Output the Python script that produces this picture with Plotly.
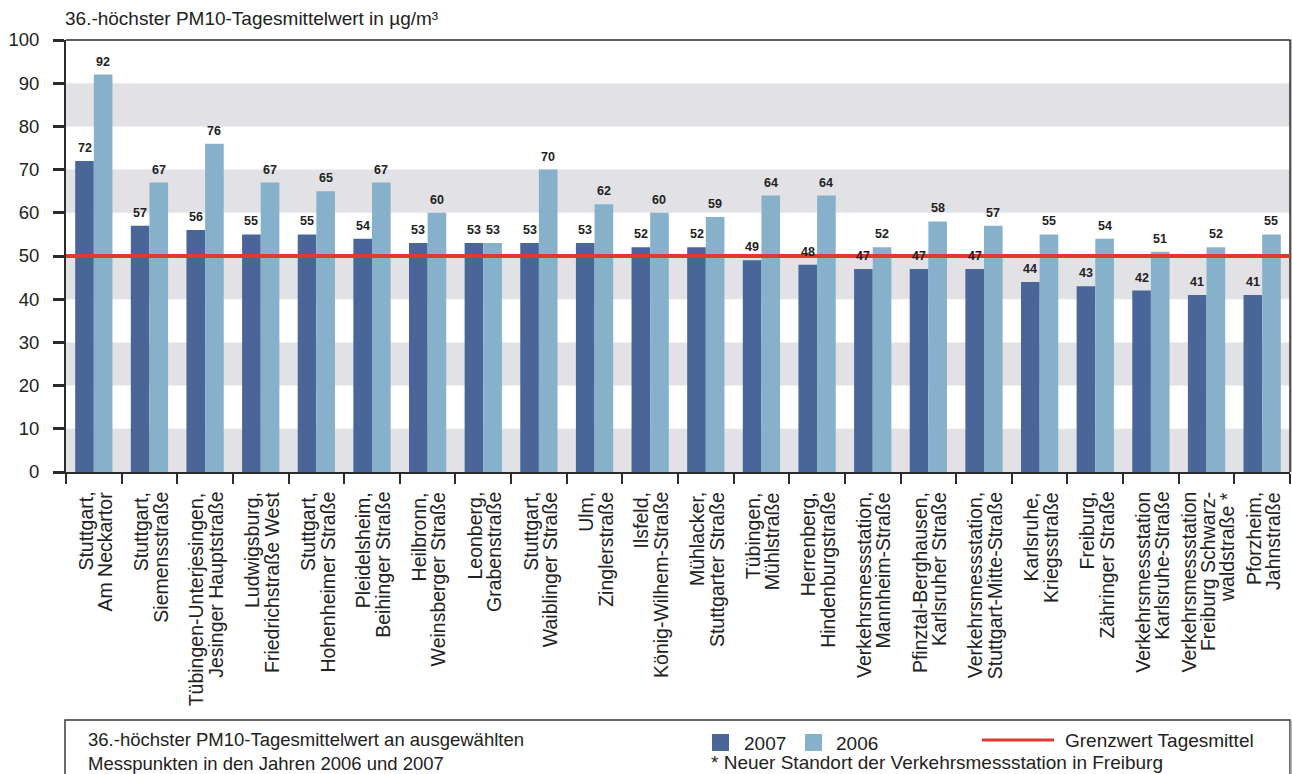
import plotly.graph_objects as go

# Messpunkte: one entry per station, each a list of label lines
station_lines = [
    ["Stuttgart,", "Am Neckartor"],
    ["Stuttgart,", "Siemensstraße"],
    ["Tübingen-Unterjesingen,", "Jesinger Hauptstraße"],
    ["Ludwigsburg,", "Friedrichstraße West"],
    ["Stuttgart,", "Hohenheimer Straße"],
    ["Pleidelsheim,", "Beihinger Straße"],
    ["Heilbronn,", "Weinsberger Straße"],
    ["Leonberg,", "Grabenstraße"],
    ["Stuttgart,", "Waiblinger Straße"],
    ["Ulm,", "Zinglerstraße"],
    ["Ilsfeld,", "König-Wilhem-Straße"],
    ["Mühlacker,", "Stuttgarter Straße"],
    ["Tübingen,", "Mühlstraße"],
    ["Herrenberg,", "Hindenburgstraße"],
    ["Verkehrsmessstation,", "Mannheim-Straße"],
    ["Pfinztal-Berghausen,", "Karlsruher Straße"],
    ["Verkehrsmessstation,", "Stuttgart-Mitte-Straße"],
    ["Karlsruhe,", "Kriegsstraße"],
    ["Freiburg,", "Zähringer Straße"],
    ["Verkehrsmessstation", "Karlsruhe-Straße"],
    ["Verkehrsmessstation", "Freiburg Schwarz-", "waldstraße *"],
    ["Pforzheim,", "Jahnstraße"],
]
stations = [" ".join(lines) for lines in station_lines]

values_2007 = [72, 57, 56, 55, 55, 54, 53, 53, 53, 53, 52, 52, 49, 48, 47, 47, 47, 44, 43, 42, 41, 41]
values_2006 = [92, 67, 76, 67, 65, 67, 60, 53, 70, 62, 60, 59, 64, 64, 52, 58, 57, 55, 54, 51, 52, 55]

limit_value = 50
y_ticks = [0, 10, 20, 30, 40, 50, 60, 70, 80, 90, 100]

caption_lines = ["36.-höchster PM10-Tagesmittelwert an ausgewählten",
                 "Messpunkten in den Jahren 2006 und 2007"]
footnote = "* Neuer Standort der Verkehrsmessstation in Freiburg"

C_2007 = "#4a6698"
C_2006 = "#87b1cb"
C_BAND = "#e2e1e6"
C_LIMIT = "#de3b2e"
C_AXIS = "#2b2b2b"
C_TEXT = "#222222"
FONT = "Liberation Sans, Arial, sans-serif"

# plot area geometry (pixels)
FIG_W, FIG_H = 1292, 774
PLOT_LEFT, PLOT_RIGHT = 66, 1290
PLOT_TOP, PLOT_BOTTOM = 40, 472
H = PLOT_BOTTOM - PLOT_TOP
W = PLOT_RIGHT - PLOT_LEFT
BARGAP = 0.33
GROUP_W = W / len(stations)
BAR_W = GROUP_W * (1 - BARGAP) / 2


def py(pix):
    return (PLOT_BOTTOM - pix) / H


def px(pix):
    return (pix - PLOT_LEFT) / W


fig = go.Figure()
fig.add_trace(go.Bar(x=stations, y=values_2007, name="2007",
                     marker=dict(color=C_2007, line=dict(width=0)), showlegend=False))
fig.add_trace(go.Bar(x=stations, y=values_2006, name="2006",
                     marker=dict(color=C_2006, line=dict(width=0)), showlegend=False))

shapes = []
# alternating grey bands
for lo in range(0, 100, 20):
    shapes.append(dict(type="rect", xref="paper", yref="y", x0=0, x1=1, y0=lo, y1=lo + 10,
                       fillcolor=C_BAND, line=dict(width=0), layer="below"))
# plot frame (top and right edge) with light shadow
shapes.append(dict(type="line", xref="paper", yref="paper", x0=px(1291.3), x1=px(1291.3), y0=0, y1=py(39),
                   line=dict(color="#b8b8b8", width=2)))
shapes.append(dict(type="line", xref="paper", yref="paper", x0=0, x1=1, y0=1, y1=1,
                   line=dict(color=C_AXIS, width=1.5)))
shapes.append(dict(type="line", xref="paper", yref="paper", x0=1, x1=1, y0=0, y1=1,
                   line=dict(color=C_AXIS, width=1.5)))
# limit value line
shapes.append(dict(type="line", xref="paper", yref="y", x0=0, x1=1, y0=limit_value, y1=limit_value,
                   line=dict(color=C_LIMIT, width=4), layer="above"))

# caption box below the chart
shapes.append(dict(type="rect", xref="paper", yref="paper", x0=px(65), x1=px(1290), y0=py(720), y1=py(790),
                   line=dict(color="#3a3a3a", width=1.5), fillcolor="white", layer="above"))
shapes.append(dict(type="line", xref="paper", yref="paper", x0=px(1291.5), x1=px(1291.5), y0=py(721), y1=py(790),
                   line=dict(color="#b8b8b8", width=2)))
# legend keys
shapes.append(dict(type="rect", xref="paper", yref="paper", x0=px(712), x1=px(729), y0=py(751), y1=py(734),
                   fillcolor=C_2007, line=dict(width=0), layer="above"))
shapes.append(dict(type="rect", xref="paper", yref="paper", x0=px(805), x1=px(822), y0=py(751), y1=py(734),
                   fillcolor=C_2006, line=dict(width=0), layer="above"))
shapes.append(dict(type="line", xref="paper", yref="paper", x0=px(982), x1=px(1054), y0=py(740), y1=py(740),
                   line=dict(color=C_LIMIT, width=3), layer="above"))

annotations = []

# value labels above each bar
for name, v07, v06 in zip(stations, values_2007, values_2006):
    for val, shift in ((v07, -BAR_W / 2), (v06, BAR_W / 2)):
        annotations.append(dict(
            text=f"<b>{val}</b>", x=name, y=val, xref="x", yref="y",
            xanchor="center", yanchor="bottom", xshift=shift, yshift=5, borderpad=0,
            showarrow=False, font=dict(family=FONT, size=12.5, color=C_TEXT)))

# rotated category labels, one line each, end-aligned under the axis
LABEL_SIZE = 19.5
LINE_PITCH = 19.5
for name, lines in zip(stations, station_lines):
    n = len(lines)
    for j, line in enumerate(lines):
        annotations.append(dict(
            text=line, x=name, y=py(491), xref="x", yref="paper", textangle=-90,
            xanchor="center", yanchor="top", xshift=(j - (n - 1) / 2) * LINE_PITCH + 1,
            borderpad=0, showarrow=False, font=dict(family=FONT, size=LABEL_SIZE, color=C_TEXT)))


def text_at(text, x_pix, y_pix, size):
    return dict(text=text, xref="paper", yref="paper", x=px(x_pix), y=py(y_pix),
                xanchor="left", yanchor="middle", align="left", showarrow=False, borderpad=0,
                font=dict(family=FONT, size=size, color=C_TEXT))


annotations += [
    text_at("36.-höchster PM10-Tagesmittelwert in µg/m³", 64, 19, 19),
    text_at("<br>".join(caption_lines), 87, 751, 18.5),
    text_at("2007", 743, 743, 19),
    text_at("2006", 835, 743, 19),
    text_at("Grenzwert Tagesmittel", 1064, 740, 19),
    text_at(footnote, 710, 762, 19),
]

fig.update_layout(
    width=FIG_W, height=FIG_H,
    margin=dict(l=PLOT_LEFT, r=FIG_W - PLOT_RIGHT, t=PLOT_TOP, b=FIG_H - PLOT_BOTTOM, pad=0),
    paper_bgcolor="white", plot_bgcolor="white",
    barmode="group", bargap=BARGAP, bargroupgap=0,
    font=dict(family=FONT, color=C_TEXT),
    shapes=shapes, annotations=annotations,
    xaxis=dict(
        type="category", tickson="boundaries", ticks="outside", showticklabels=False,
        ticklen=10, tickwidth=2, tickcolor=C_AXIS,
        showline=True, linecolor=C_AXIS, linewidth=2, showgrid=False,
    ),
    yaxis=dict(
        range=[0, 100], tickvals=y_ticks, ticks="outside", ticklen=11, tickwidth=2.5,
        tickcolor=C_AXIS, showline=True, linecolor=C_AXIS, linewidth=2,
        showgrid=False, zeroline=False, ticklabelstandoff=10,
        tickfont=dict(family=FONT, size=18.5, color=C_TEXT),
    ),
)

fig.write_html("out.html")
